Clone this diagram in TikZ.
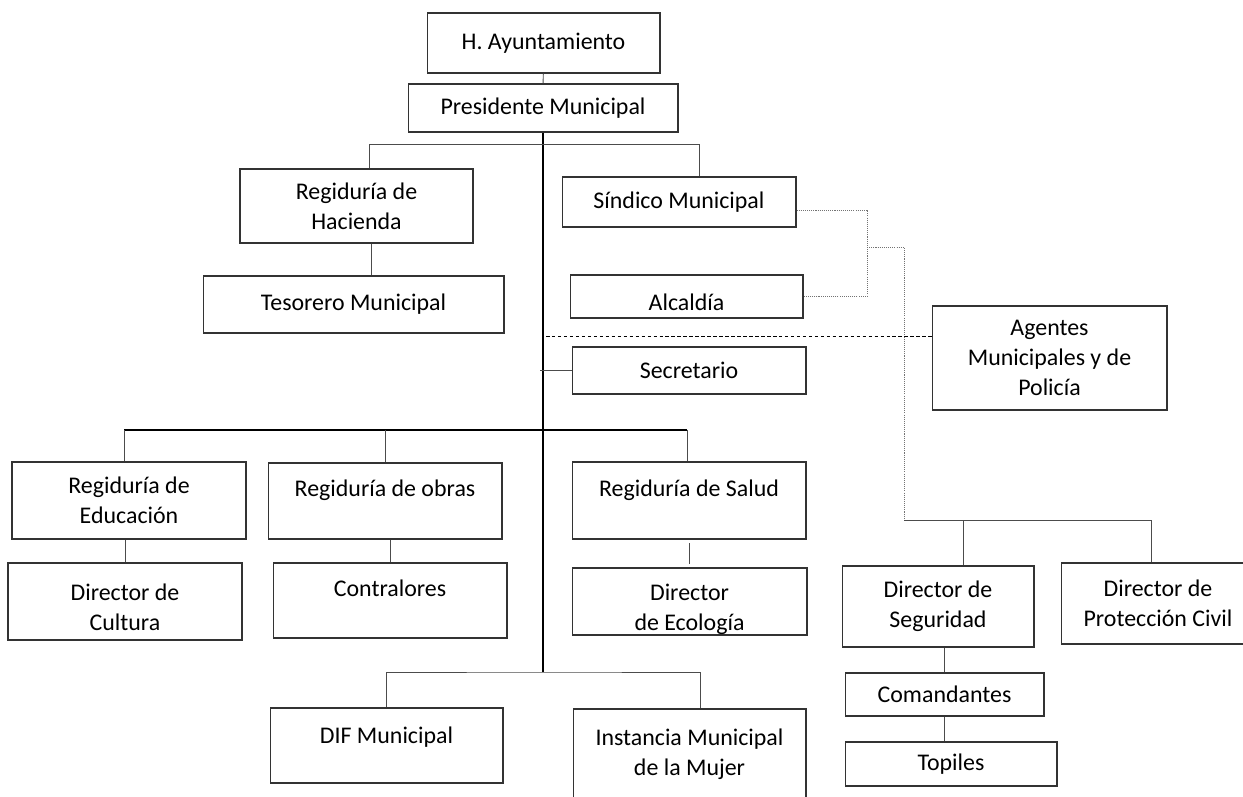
\documentclass[tikz,border=0pt]{standalone}
\usepackage{fontspec}
\setmainfont{Carlito}
\usepackage{tikz}

\begin{document}
\begin{tikzpicture}[x=0.02cm, y=-0.02cm,
    caja/.style={draw=black!80, line width=0.6pt, inner sep=0pt, align=center,
      minimum width=4.68cm, font=\fontsize{13.6}{17}\selectfont},
    sube/.style={text depth=#1},
    baja/.style={text height=#1},
    linea/.style={draw=black!70, line width=0.55pt},
    eje/.style={draw=black, line width=0.6pt},
    barra/.style={draw=black, line width=1.3pt},
    punteado/.style={draw=black!55, line width=0.5pt, dash pattern=on 0.6pt off 0.6pt},
    guion/.style={draw=black, line width=0.55pt, dash pattern=on 2pt off 1.4pt}]
    \useasboundingbox (0,0) rectangle (1243,797);

    \node[caja, minimum width=4.66cm, minimum height=1.2cm] (ayu) at (543.5,43) {H. Ayuntamiento};
    \node[caja, minimum width=5.4cm, minimum height=0.96cm] (pres) at (543,108) {Presidente Municipal};
    \node[caja, minimum width=4.66cm, minimum height=1.48cm] (hac) at (356.5,206) {Regiduría de\\Hacienda};
    \node[caja, minimum width=6.02cm, minimum height=1.14cm] (tes) at (353.5,304.5) {Tesorero Municipal};
    \node[caja, minimum height=1.0cm] (sind) at (679,202) {Síndico Municipal};
    \node[caja, minimum width=4.66cm, minimum height=0.86cm, baja=16pt] (alc) at (686.5,296.5) {Alcaldía};
    \node[caja, minimum height=0.94cm] (sec) at (689,370.5) {Secretario};
    \node[caja, minimum width=4.7cm, minimum height=2.08cm] (age) at (1049.5,358) {Agentes\\Municipales y de\\Policía};
    \node[caja, minimum height=1.54cm] (edu) at (129,500.5) {Regiduría de\\Educación};
    \node[caja, minimum height=1.52cm, sube=15pt] (obr) at (385,501) {Regiduría de obras};
    \node[caja, minimum height=1.54cm, sube=14.5pt] (sal) at (689,500.5) {Regiduría de Salud};
    \node[caja, minimum height=1.54cm, baja=32.8pt] (cul) at (125,601.5) {Director de\\Cultura};
    \node[caja, minimum height=1.5cm, sube=14pt] (con) at (390,600.5) {Contralores};
    \node[caja, minimum width=4.7cm, minimum height=1.34cm, baja=35pt] (eco) at (689.5,601.5) {Director\\de Ecología};
    \node[caja, minimum width=4.66cm, minimum height=1.5cm, sube=12pt] (dif) at (386.5,745.5) {DIF Municipal};
    \node[caja, minimum width=4.66cm, minimum height=1.82cm] (ins) at (689.5,754.5) {Instancia Municipal\\de la Mujer};
    \node[caja, minimum width=3.84cm, minimum height=1.62cm] (seg) at (938,606.5) {Director de\\Seguridad};
    \node[caja, minimum width=3.88cm, minimum height=1.62cm] (pro) at (1158,603.5) {Director de\\Protección Civil};
    \node[caja, minimum width=3.98cm, minimum height=0.86cm] (com) at (944.5,694.5) {Comandantes};
    \node[caja, minimum width=4.24cm, minimum height=0.88cm] (top) at (951,764) {Topiles};

    \coordinate (b2i) at (124,430);
    \coordinate (b2d) at (687,430);
    \coordinate (b3) at (545,672);
    \coordinate (d1) at (546,336);
    \coordinate (p1) at (867,247);
    \coordinate (p2) at (904,520);

    \draw[linea] (ayu) -- (pres);
    \draw[eje] (pres.south) -- (pres.south |- b3);
    \draw[linea] ([xshift=0.25cm]hac.north) -- ++(0,-24) -| ([xshift=0.4cm]sind.north);
    \draw[linea] ([xshift=0.29cm]hac.south) -- ([xshift=0.29cm]hac.south |- tes.north);
    \draw[punteado] ([yshift=-0.16cm]sind.east) -| (p1) |- (alc.east);
    \draw[punteado] (p1) -| (p2);
    \draw[linea] (p2) -| ([xshift=-0.14cm]pro.north);
    \draw[linea] ([xshift=0.5cm]seg.north) -- ([xshift=0.5cm]seg.north |- p2);
    \draw[linea] (com.north) -- (com.north |- seg.south);
    \draw[linea] (com.south) -- (com.south |- top.north);
    \draw[guion] (d1) -- (d1 -| age.west);
    \draw[linea] (sec.west) -- ++(-32,0);
    \draw[barra] (b2i) -- (b2d);
    \draw[linea] (b2i) -- (b2i |- edu.north);
    \draw[linea] (obr.north |- b2i) -- (obr.north);
    \draw[linea] (b2d) -- (b2d |- sal.north);
    \draw[linea] (cul.north) -- (cul.north |- edu.south);
    \draw[linea] (con.north) -- (con.north |- obr.south);
    \draw[linea, shorten <=2pt, shorten >=2pt] (sal.south) -- (sal.south |- eco.north);
    \draw[linea] (dif.north) |- (b3) -| ([xshift=0.21cm]ins.north);
\end{tikzpicture}
\end{document}
